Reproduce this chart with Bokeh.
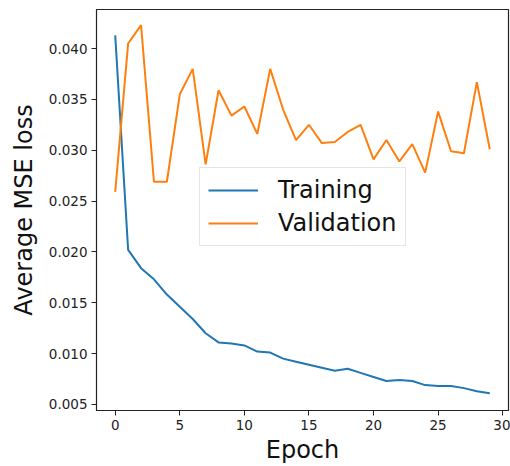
from bokeh.plotting import figure
from bokeh.models import FixedTicker, NumeralTickFormatter, Range1d, Legend, LegendItem
from bokeh.embed import file_html
from bokeh.resources import INLINE

epochs = list(range(30))
training = [0.0413, 0.0202, 0.0184, 0.0173, 0.0158, 0.0146, 0.0134, 0.0120, 0.0111, 0.0110,
            0.0108, 0.0102, 0.0101, 0.0095, 0.0092, 0.0089, 0.0086, 0.0083, 0.0085, 0.0081,
            0.0077, 0.0073, 0.0074, 0.0073, 0.0069, 0.0068, 0.0068, 0.0066, 0.0063, 0.0061]
validation = [0.0259, 0.0405, 0.0423, 0.0269, 0.0269, 0.0355, 0.0380, 0.0286, 0.0359, 0.0334,
              0.0343, 0.0316, 0.0380, 0.0340, 0.0310, 0.0325, 0.0307, 0.0308, 0.0318, 0.0325,
              0.0291, 0.0310, 0.0289, 0.0306, 0.0278, 0.0338, 0.0299, 0.0297, 0.0367, 0.0301]
x_ticks = [0, 5, 10, 15, 20, 25, 30]
y_ticks = [0.005, 0.010, 0.015, 0.020, 0.025, 0.030, 0.035, 0.040]

FONT = "DejaVu Sans"

p = figure(width=510, height=466, output_backend="svg", toolbar_location=None,
           x_range=Range1d(-1.45, 30.45), y_range=Range1d(0.00440, 0.04384),
           min_border_left=96, min_border_right=2, min_border_top=9, min_border_bottom=55)
p.background_fill_color = "white"
p.border_fill_color = "white"
p.outline_line_color = "#222222"
p.outline_line_width = 1.2
p.grid.visible = False

l1 = p.line(epochs, training, line_color="#1f77b4", line_width=2)
l2 = p.line(epochs, validation, line_color="#ff7f0e", line_width=2)

for ax in (p.xaxis[0], p.yaxis[0]):
    ax.axis_line_color = "#222222"
    ax.major_tick_line_color = "#222222"
    ax.major_tick_out = 5
    ax.major_tick_in = 0
    ax.minor_tick_line_color = None
    ax.major_label_text_font = FONT
    ax.major_label_text_font_size = "13.5px"
    ax.major_label_text_color = "#222222"
    ax.axis_label_text_font = FONT
    ax.axis_label_text_font_size = "24px"
    ax.axis_label_text_font_style = "normal"
    ax.axis_label_text_color = "#111111"

p.xaxis[0].ticker = FixedTicker(ticks=x_ticks)
p.yaxis[0].ticker = FixedTicker(ticks=y_ticks)
p.yaxis[0].formatter = NumeralTickFormatter(format="0.000")
p.xaxis[0].axis_label = "Epoch"
p.yaxis[0].axis_label = "Average MSE loss"
p.xaxis[0].major_label_standoff = 4
p.yaxis[0].major_label_standoff = 4
p.xaxis[0].axis_label_standoff = 3
p.yaxis[0].axis_label_standoff = 8

legend = Legend(items=[LegendItem(label="Training", renderers=[l1]),
                       LegendItem(label="Validation", renderers=[l2])],
                location=(103, 164))
legend.label_text_font = FONT
legend.label_text_font_size = "24px"
legend.label_text_color = "#111111"
legend.glyph_width = 50
legend.glyph_height = 28
legend.label_standoff = 20
legend.spacing = 5
legend.padding = 8
legend.margin = 0
legend.border_line_color = "#cccccc"
legend.border_line_width = 1
legend.background_fill_alpha = 0.8
p.add_layout(legend, "center")

open("out.html", "w").write(file_html(p, INLINE))
